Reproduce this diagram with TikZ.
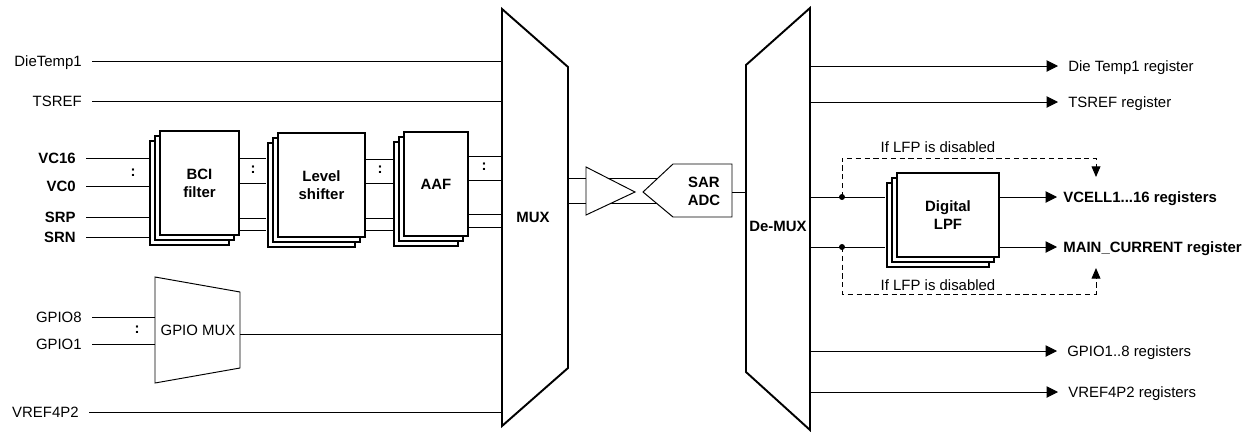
\documentclass[tikz,border=0pt]{standalone}
\usepackage{fontspec}
\setmainfont{Liberation Sans}
\usepackage{tikz}
\usetikzlibrary{calc,arrows.meta,shadows}

\tikzset{
  wire/.style={line width=0.55pt},
  sig/.style={inner xsep=0.2cm, inner ysep=1pt, text height=6.1pt, text depth=0pt},
  reg/.style={inner xsep=0.2cm, inner ysep=1pt, text height=6.1pt, text depth=0pt},
  bf/.style={font=\fontsize{8.5}{10.2}\selectfont\bfseries},
  every shadow/.style={draw=black, fill=white, line width=1.1pt},
  blk/.style={draw, fill=white, line width=1.1pt, align=center, bf,
    copy shadow={shadow xshift=-0.2cm, shadow yshift=-0.2cm},
    copy shadow={shadow xshift=-0.1cm, shadow yshift=-0.1cm}},
  arr/.style={wire, -{Triangle[length=6.5pt, width=6.5pt]}},
  bypass/.style={wire, dash pattern=on 3pt off 2pt, -{Triangle[length=6pt, width=5pt]}},
  joint/.style={circle, fill, inner sep=0pt, minimum size=0.12cm}
}

\begin{document}
\begin{tikzpicture}[x=0.02cm, y=-0.02cm, font=\fontsize{8.5}{10.2}\selectfont]
\useasboundingbox (0, 0) rectangle (1251, 433);

\draw [line width=1.1pt] (502, 9) -- (568, 67) -- (568, 368) -- (502, 426) -- cycle;
\draw [line width=1.1pt] (810, 8) -- (746, 65) -- (746, 372) -- (810, 430) -- cycle;
\coordinate (muxL) at (502, 217);
\coordinate (muxR) at (568, 217);
\coordinate (demuxL) at (746, 217);
\coordinate (demuxR) at (810, 217);
\node [bf] (mux) at (533, 217) {MUX};
\node [bf] (demux) at (778, 226) {De-MUX};

\node [sig, anchor=east] (dietemp) at (92, 61) {DieTemp1};
\node [sig, anchor=east] (tsref) at (92, 101) {TSREF};
\node [sig, bf, anchor=east] (vc16) at (86, 158) {VC16};
\node [sig, bf, anchor=east] (vc0) at (86, 186) {VC0};
\node [sig, bf, anchor=east] (srp) at (86, 217) {SRP};
\node [sig, bf, anchor=east] (srn) at (86, 237) {SRN};
\node [sig, anchor=east] (gpio8) at (92, 317) {GPIO8};
\node [sig, anchor=east] (gpio1) at (92, 344) {GPIO1};
\node [sig, anchor=east] (vref) at (89, 412) {VREF4P2};

\node [blk, minimum width=1.58cm, minimum height=2.08cm] (bci) at (199.5, 183) {BCI\\filter};
\node [blk, minimum width=1.74cm, minimum height=2.08cm] (lvl) at (321.5, 185) {Level\\shifter};
\node [blk, minimum width=1.28cm, minimum height=2.08cm] (aaf) at (436, 184) {AAF};
\coordinate (bciin) at ($(bci.west)+(-10, 0)$);
\coordinate (lvlin) at ($(lvl.west)+(-11, 0)$);
\coordinate (aafin) at ($(aaf.west)+(-10, 0)$);

\node [bf] (col1) at (133, 173) {:};
\node [bf] (col2) at (253, 170) {:};
\node [bf] (col3) at (380, 170) {:};
\node [bf] (col4) at (484, 167) {:};
\node [bf] (col5) at (137, 330) {:};

\draw [wire] (dietemp.east) -- (dietemp.east -| muxL);
\draw [wire] (tsref.east) -- (tsref.east -| muxL);
\foreach \n in {vc16, vc0, srp, srn}
  \draw [wire] (\n.east) -- (\n.east -| bciin);
\foreach \y in {158, 183, 218, 230}
  \draw [wire] (bci.east |- 0, \y) -- (lvlin |- 0, \y);
\foreach \y in {159, 183, 218, 230}
  \draw [wire] (lvl.east |- 0, \y) -- (aafin |- 0, \y);
\foreach \y in {156, 180, 214, 227}
  \draw [wire] (aaf.east |- 0, \y) -- (muxL |- 0, \y);

\draw [wire] (155, 277) -- (240, 292) -- (240, 368) -- (155, 383) -- cycle;
\node (gpiomux) at (198, 330) {GPIO MUX};
\coordinate (gpioin) at (155, 330);
\coordinate (gpioout) at (240, 334);
\draw [wire] (gpio8.east) -- (gpio8.east -| gpioin);
\draw [wire] (gpio1.east) -- (gpio1.east -| gpioin);
\draw [wire] (gpioout) -- (gpioout -| muxL);
\draw [wire] (vref.east) -- (vref.east -| muxL);

\coordinate (sarR) at (732, 192);
\draw [wire] (muxR |- 0, 178.5) -- (sarR |- 0, 178.5);
\draw [wire] (muxR |- 0, 203) -- (sarR |- 0, 203);
\draw [wire, fill=white] (586, 167) -- (635, 192) -- (586, 215) -- cycle;
\draw [wire, fill=white] (643, 192) -- (673, 164) -- (732, 164) -- (732, 217) -- (673, 217) -- cycle;
\node [bf, align=center] (sar) at (704, 191) {SAR\\ADC};
\draw [wire] (sarR) -- (sarR -| demuxL);

\node [reg, anchor=west] (rdie) at (1058, 66) {Die Temp1 register};
\node [reg, anchor=west] (rts) at (1058, 102) {TSREF register};
\node [reg, bf, anchor=west, inner xsep=0.12cm] (rvcell) at (1057, 197) {VCELL1...16 registers};
\node [reg, bf, anchor=west, inner xsep=0.12cm] (rmain) at (1057, 247) {MAIN\_CURRENT register};
\node [reg, anchor=west] (rgpio) at (1057, 351) {GPIO1..8 registers};
\node [reg, anchor=west] (rvref) at (1058, 392) {VREF4P2 registers};
\foreach \n in {rdie, rts, rgpio, rvref}
  \draw [arr] (\n.west -| demuxR) -- (\n.west);

\node [blk, minimum width=2.04cm, minimum height=1.68cm] (lpf) at (948, 215) {Digital\\LPF};
\coordinate (lpfin) at ($(lpf.west)+(-11, 0)$);
\node [joint] (dot1) at (842, 197) {};
\node [joint] (dot2) at (842, 247) {};
\draw [wire] (dot1 -| demuxR) -- (dot1 -| lpfin);
\draw [wire] (dot2 -| demuxR) -- (dot2 -| lpfin);
\draw [arr] (lpf.east |- rvcell.west) -- (rvcell.west);
\draw [arr] (lpf.east |- rmain.west) -- (rmain.west);

\coordinate (up1) at (1096, 177);
\coordinate (dn1) at (1096, 268);
\draw [bypass] (dot1.center) -- ++(0, -39) -| (up1);
\draw [bypass] (dot2.center) -- ++(0, 47) -| (dn1);
\node (lfp1) at (938, 147) {If LFP is disabled};
\node (lfp2) at (938, 285) {If LFP is disabled};
\end{tikzpicture}
\end{document}
